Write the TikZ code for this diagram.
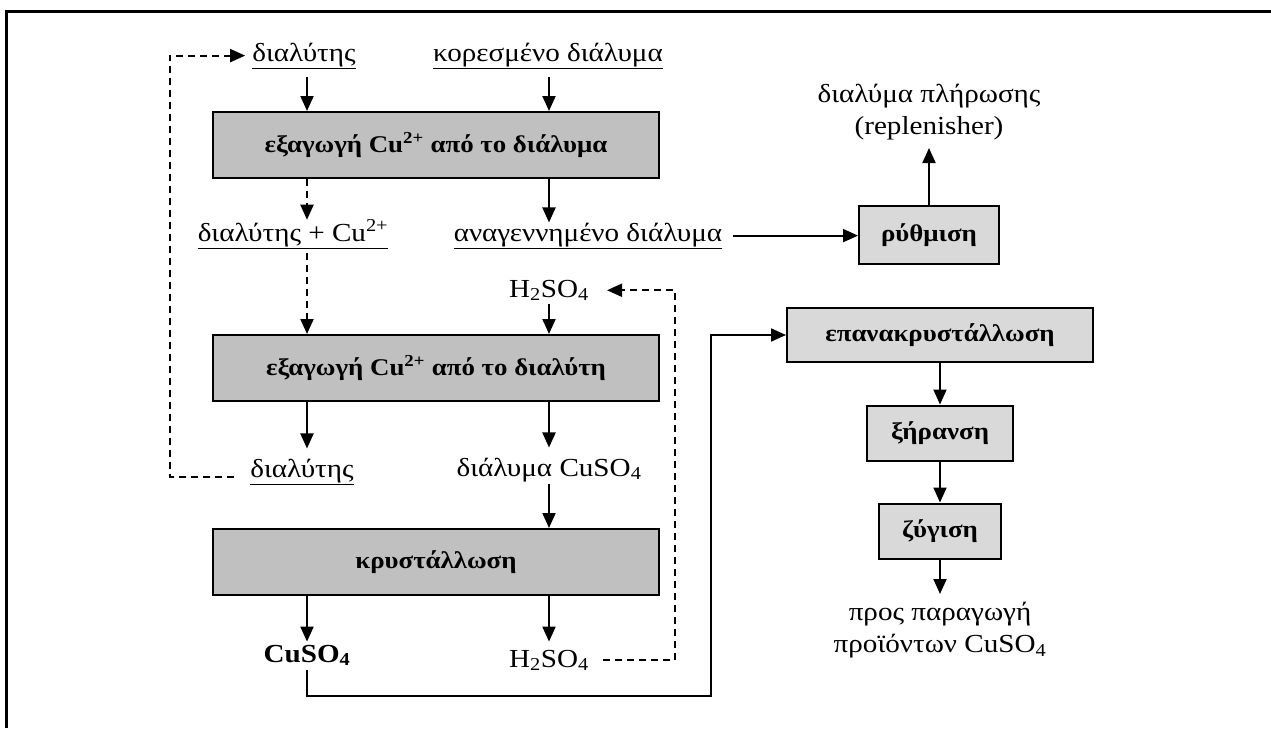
\documentclass[tikz,border=0pt]{standalone}
\usepackage{fontspec}
\setmainfont{Liberation Serif}[FakeStretch=1.12]
\usetikzlibrary{arrows.meta}
\definecolor{boxgray}{HTML}{C0C0C0}
\definecolor{stepfill}{HTML}{D9D9D9}
\begin{document}
\begin{tikzpicture}[x=1pt,y=-1pt,
  font=\fontsize{26}{32}\selectfont,
  bigbox/.style={draw, line width=2pt, fill=boxgray, minimum width=446pt,
    minimum height=66pt, inner sep=0pt, font=\fontsize{24}{28}\selectfont\bfseries},
  smallbox/.style={draw, line width=2pt, fill=stepfill, inner sep=0pt,
    minimum height=55pt, font=\fontsize{24}{28}\selectfont\bfseries},
  lab/.style={inner sep=0pt, anchor=base},
  arr/.style={line width=2pt, -{Triangle[width=13pt,length=15pt]}},
  darr/.style={arr, dash pattern=on 7pt off 5pt},
]
\useasboundingbox (0,0) rectangle (1271,728);
% frame
\draw[line width=3pt] (6,728) -- (6,11) -- (1271,11);

% guide columns and corners of the return lines
\coordinate (cl) at (307,0);
\coordinate (cr) at (549,0);
\coordinate (dl) at (170,0);
\coordinate (dq) at (675,0);
\coordinate (route) at (711,696);

% extraction stages
\node[lab] (solv1) at (304,61) {\underline{διαλύτης}};
\node[lab] (sat) at (548,61) {\underline{κορεσμένο διάλυμα}};
\node[bigbox] (box1) at (436,145) {εξαγωγή Cu\textsuperscript{2+} από το διάλυμα};
\node[lab] (solvcu) at (293,241) {\underline{διαλύτης + Cu\textsuperscript{2+}}};
\node[lab] (regen) at (588,241) {\underline{αναγεννημένο διάλυμα}};
\node[lab] (h2mid) at (549,297) {H\textsubscript{2}SO\textsubscript{4}};
\node[bigbox] (box2) at (436,368) {εξαγωγή Cu\textsuperscript{2+} από το διαλύτη};
\node[lab] (solv2) at (302,477) {\underline{διαλύτης}};
\node[lab] (cuso) at (549,476) {διάλυμα CuSO\textsubscript{4}};
\node[bigbox] (box3) at (436,562) {κρυστάλλωση};
\node[lab, font=\fontsize{26}{32}\selectfont\bfseries] (cusob) at (307,662) {CuSO\textsubscript{4}};
\node[lab] (h2bot) at (549,667) {H\textsubscript{2}SO\textsubscript{4}};

% right-hand stages
\node[smallbox, minimum width=140pt, minimum height=58pt] (ryth) at (929,235) {ρύθμιση};
\node[inner sep=0pt, anchor=south, align=center] (repl) at (929,140) {διαλύμα πλήρωσης\\(replenisher)};
\node[smallbox, minimum width=306pt, minimum height=54pt] (epan) at (940,335) {επανακρυστάλλωση};
\node[smallbox, minimum width=146pt] (xir) at (940,433) {ξήρανση};
\node[smallbox, minimum width=122pt] (zyg) at (940,531) {ζύγιση};
\node[inner sep=0pt, anchor=north, align=center] (prod) at (940,602) {προς παραγωγή\\προϊόντων CuSO\textsubscript{4}};

% connectors
\draw[arr, shorten <=8pt] (solv1.south -| cl) -- (box1.north -| cl);
\draw[arr, shorten <=8pt] (sat.south -| cr) -- (box1.north -| cr);
\draw[darr] (box1.south -| cl) -- (solvcu.north -| cl);
\draw[arr] (box1.south -| cr) -- (regen.north -| cr);
\draw[darr, shorten <=4pt] (solvcu.south -| cl) -- (box2.north -| cl);
\draw[arr, shorten <=3pt] (h2mid.south -| cr) -- (box2.north -| cr);
\draw[arr, shorten >=10pt] (box2.south -| cl) -- (solv2.north -| cl);
\draw[arr, shorten >=10pt] (box2.south -| cr) -- (cuso.north -| cr);
\draw[arr, shorten <=2pt] (cuso.south -| cr) -- (box3.north -| cr);
\draw[arr, shorten >=3pt] (box3.south -| cl) -- (cusob.north);
\draw[arr, shorten >=8pt] (box3.south -| cr) -- (h2bot.north -| cr);
\draw[arr, shorten <=11pt] (regen.east) -- (regen.east -| ryth.west);
\draw[arr, shorten >=8pt] (ryth.north) -- (repl.south);
\draw[darr, shorten <=16pt, shorten >=7pt] (solv2.base west) -- (solv2.base west -| dl) -- (solv1.west -| dl) -- (solv1.west);
\draw[darr, shorten <=14pt, shorten >=18pt] (h2bot.east) -- (h2bot.east -| dq) -- (h2mid.east -| dq) -- (h2mid.east);
\draw[arr, shorten <=4pt] (cusob.south) |- (route) |- (epan.west);
\draw[arr] (epan.south) -- (xir.north);
\draw[arr] (xir.south) -- (zyg.north);
\draw[arr, shorten >=8pt] (zyg.south) -- (prod.north);
\end{tikzpicture}
\end{document}
